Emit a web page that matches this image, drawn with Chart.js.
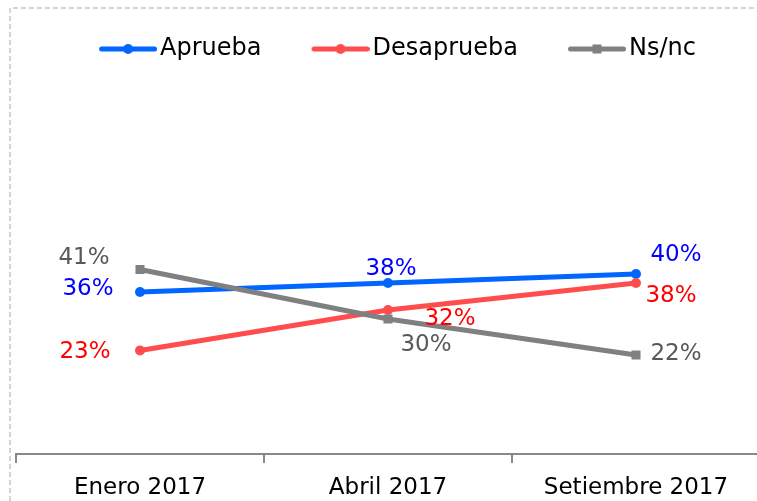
<!DOCTYPE html>
<html>
<head>
<meta charset="utf-8">
<script src="https://cdn.jsdelivr.net/npm/chart.js@4.4.1/dist/chart.umd.min.js"></script>
<style>
  html, body { margin: 0; padding: 0; background: #fff; overflow: hidden; }
  #wrap { position: relative; width: 770px; height: 501px; }
</style>
</head>
<body>
<div id="wrap"><canvas id="c"></canvas></div>
<script>
// ---- data ----
const categories = ['Enero 2017', 'Abril 2017', 'Setiembre 2017'];
const seriesNames = ['Aprueba', 'Desaprueba', 'Ns/nc'];
const aprueba = [36, 38, 40];
const desaprueba = [23, 32, 38];
const nsnc = [41, 30, 22];

// ---- styles ----
const lineColors = ['#0066FF', '#FF4D4D', '#808080'];
const labelColors = ['#0000FF', '#FF0000', '#595959'];
const pointStyles = ['circle', 'circle', 'rect'];
const pointRadii = [5, 5, 6.4];
const drawOrder = [2, 1, 0];
// label offsets (dx, dy) relative to each point
const labelOffsets = [
  [[-52, -3], [3, -14], [40, -19]],
  [[-55, 2], [62, 9], [35, 13]],
  [[-56, -11], [38, 26], [40, -1]]
];
const FONT = '"DejaVu Sans", Verdana, sans-serif';

function legendImage(color, style) {
  const cv = document.createElement('canvas');
  cv.width = 86; cv.height = 14;
  const g = cv.getContext('2d');
  g.strokeStyle = color; g.fillStyle = color;
  g.lineWidth = 5; g.lineCap = 'round';
  g.beginPath(); g.moveTo(30.5, 7); g.lineTo(83.5, 7); g.stroke();
  if (style === 'rect') { g.fillRect(52.5, 2.5, 9, 9); }
  else { g.beginPath(); g.arc(57, 7, 5, 0, Math.PI * 2); g.fill(); }
  return cv;
}

const values = [aprueba, desaprueba, nsnc];
const datasets = seriesNames.map((name, i) => ({
  label: name,
  data: values[i],
  borderColor: lineColors[i],
  backgroundColor: lineColors[i],
  pointBackgroundColor: lineColors[i],
  pointBorderColor: lineColors[i],
  pointStyle: pointStyles[i],
  pointRadius: pointRadii[i],
  pointBorderWidth: 0,
  borderWidth: 5,
  tension: 0,
  fill: false,
  order: drawOrder[i]
}));

const borderPlugin = {
  id: 'dashedBorder',
  beforeDraw(chart) {
    const ctx = chart.ctx;
    ctx.save();
    ctx.strokeStyle = '#c6c6c6';
    ctx.lineWidth = 1.5;
    ctx.setLineDash([5, 3]);
    ctx.beginPath();
    ctx.moveTo(10, 501);
    ctx.lineTo(10, 8);
    ctx.lineTo(770, 8);
    ctx.stroke();
    ctx.restore();
  }
};

const labelPlugin = {
  id: 'valueLabels',
  afterDatasetsDraw(chart) {
    const ctx = chart.ctx;
    ctx.save();
    ctx.font = '23px ' + FONT;
    ctx.textAlign = 'center';
    ctx.textBaseline = 'middle';
    chart.data.datasets.forEach((ds, i) => {
      const meta = chart.getDatasetMeta(i);
      meta.data.forEach((pt, j) => {
        const off = labelOffsets[i][j];
        ctx.fillStyle = labelColors[i];
        ctx.fillText(ds.data[j] + '%', pt.x + off[0], pt.y + off[1]);
      });
    });
    ctx.restore();
  }
};

new Chart(document.getElementById('c'), {
  type: 'line',
  data: { labels: categories, datasets },
  options: {
    responsive: true,
    maintainAspectRatio: false,
    animation: false,
    layout: { padding: { left: 16, right: 10, top: 6, bottom: 0 } },
    plugins: {
      tooltip: { enabled: false },
      legend: {
        position: 'top',
        align: 'center',
        fullSize: false,
        labels: {
          usePointStyle: true,
          pointStyleWidth: 68,
          padding: 31,
          color: '#000',
          font: { family: FONT, size: 24 },
          generateLabels(chart) {
            return chart.data.datasets.map((ds, i) => ({
              text: ds.label,
              pointStyle: legendImage(lineColors[i], pointStyles[i]),
              fillStyle: lineColors[i],
              strokeStyle: lineColors[i],
              lineWidth: 0,
              fontColor: '#000',
              hidden: false,
              datasetIndex: i
            }));
          }
        }
      }
    },
    scales: {
      x: {
        offset: true,
        grid: {
          offset: true,
          drawOnChartArea: false,
          drawTicks: true,
          tickLength: 9,
          color: '#888',
          lineWidth: 2
        },
        border: { display: true, color: '#888', width: 2 },
        ticks: {
          color: '#000',
          padding: 14,
          font: { family: FONT, size: 23, lineHeight: 1 }
        },
        afterFit(scale) { scale.height = 47; }
      },
      y: {
        display: false,
        min: 0,
        max: 85.1
      }
    }
  },
  plugins: [borderPlugin, labelPlugin]
});
</script>
</body>
</html>
